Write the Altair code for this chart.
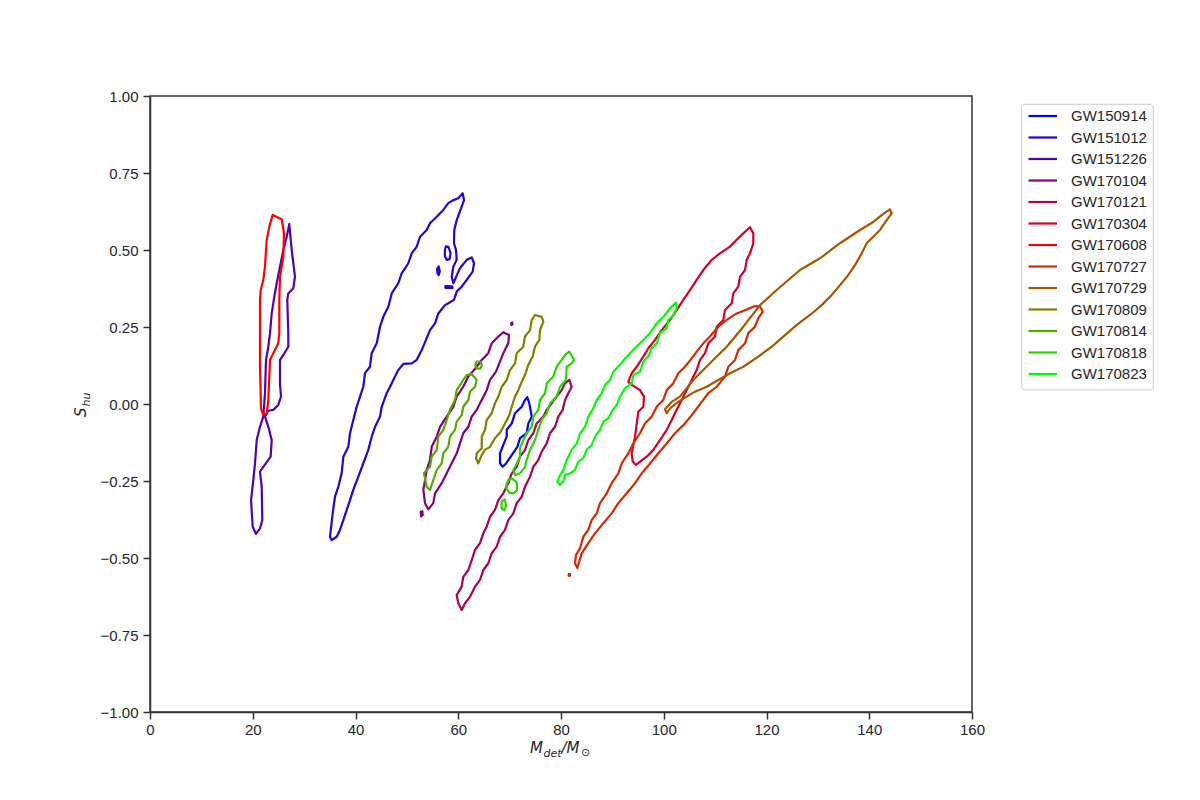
import altair as alt
import pandas as pd

events = ["GW150914", "GW151012", "GW151226", "GW170104", "GW170121", "GW170304",
          "GW170608", "GW170727", "GW170729", "GW170809", "GW170814", "GW170818", "GW170823"]
colors = ["#0000ff", "#2a00d4", "#5500aa", "#800080", "#aa0055", "#d4002a",
          "#ff0000", "#d42a00", "#aa5500", "#808000", "#55aa00", "#2ad400", "#00ff00"]

x_ticks = [0, 20, 40, 60, 80, 100, 120, 140, 160]
y_ticks = [-1.0, -0.75, -0.5, -0.25, 0.0, 0.25, 0.5, 0.75, 1.0]

# ---- contour outlines (M_det, S_hu) ----
GW150914_x = [73.44, 73.83, 74.30, 73.64, 73.32, 72.02, 71.50, 70.41, 69.30, 68.65, 68.13, 68.13, 68.77, 69.43, 69.43, 70.41, 71.05, 72.35, 72.99]
GW150914_y = [0.022, 0.002, -0.041, -0.063, -0.095, -0.111, -0.139, -0.166, -0.193, -0.204, -0.193, -0.160, -0.133, -0.106, -0.084, -0.063, -0.030, -0.009, 0.013]

GW151012_x = [60.87, 61.12, 60.67, 59.70, 59.23, 59.17, 59.56, 59.70, 59.04, 58.73, 59.04, 60.34, 61.65, 62.62, 63.07, 62.81, 61.65, 60.67, 59.70, 59.17,
              58.06, 57.42, 56.12, 55.48, 54.50, 53.72, 52.89, 51.91, 50.94, 49.30, 48.33, 47.69, 46.72, 46.07, 45.10, 44.77, 43.80, 43.15, 42.49, 41.52,
              40.55, 39.57, 38.93, 38.29, 37.63, 36.98, 36.34, 35.37, 35.04, 35.56, 36.01, 36.65, 37.31, 37.63, 38.60, 38.93, 39.57, 40.23, 40.88, 41.52,
              41.85, 42.82, 43.15, 44.13, 44.77, 45.41, 46.39, 47.05, 48.33, 48.99, 50.28, 50.94, 51.91, 52.56, 53.86, 54.50, 55.81, 57.09, 58.06, 59.04, 60.01]
GW151012_y = [0.684, 0.662, 0.641, 0.597, 0.565, 0.522, 0.500, 0.468, 0.446, 0.413, 0.392, 0.441, 0.468, 0.476, 0.457, 0.430, 0.403, 0.381, 0.365, 0.338,
              0.327, 0.321, 0.294, 0.262, 0.240, 0.208, 0.175, 0.143, 0.132, 0.130, 0.110, 0.089, 0.056, 0.035, -0.009, -0.041, -0.074, -0.106, -0.149, -0.193,
              -0.236, -0.279, -0.312, -0.344, -0.377, -0.409, -0.431, -0.442, -0.431, -0.355, -0.301, -0.269, -0.225, -0.171, -0.139, -0.095, -0.052, -0.009, 0.024, 0.056,
              0.100, 0.121, 0.165, 0.197, 0.251, 0.283, 0.316, 0.359, 0.392, 0.424, 0.457, 0.489, 0.511, 0.543, 0.565, 0.587, 0.608, 0.630, 0.652, 0.662, 0.668]
GW151012_b_x = [57.4, 57.6, 58.1, 58.5, 58.3, 57.8, 57.4]
GW151012_b_y = [0.500, 0.512, 0.510, 0.490, 0.470, 0.468, 0.480]
GW151012_c_x = [55.9, 56.2, 56.4, 56.2, 55.95]
GW151012_c_y = [0.440, 0.447, 0.430, 0.418, 0.425]
GW151012_d_x = [57.5, 58.8, 58.9, 57.5]
GW151012_d_y = [0.383, 0.382, 0.377, 0.377]

GW151226_x = [27.11, 27.58, 28.22, 27.89, 26.92, 26.72, 26.92, 26.92, 25.95, 25.30, 25.30, 25.50, 24.97, 24.00, 23.03, 22.38, 23.03, 23.69, 23.49, 22.05,
              21.41, 21.74, 21.86, 21.41, 20.63, 19.99, 19.66, 20.11, 20.44, 20.77, 21.41, 22.05, 22.38, 22.58, 23.03, 23.36, 23.69, 24.19, 24.66, 25.30, 25.95, 26.61]
GW151226_y = [0.584, 0.500, 0.413, 0.376, 0.359, 0.338, 0.230, 0.186, 0.159, 0.143, 0.067, 0.024, -0.003, -0.019, -0.022, -0.041, -0.074, -0.117, -0.171, -0.204,
              -0.220, -0.268, -0.377, -0.404, -0.422, -0.398, -0.312, -0.247, -0.193, -0.117, -0.074, -0.041, 0.035, 0.143, 0.186, 0.230, 0.294, 0.348, 0.392, 0.446, 0.500, 0.543]

GW170104_x = [68.77, 69.88, 69.74, 68.77, 67.99, 67.35, 66.18, 65.54, 64.57, 63.59, 62.62, 61.96, 60.98, 60.34, 59.70, 59.04, 57.75, 56.78, 55.48, 55.14,
              54.17, 53.53, 53.20, 53.53, 53.86, 54.50, 54.83, 55.81, 56.45, 57.75, 59.04, 59.70, 60.98, 61.96, 63.59, 64.57, 65.85, 66.51, 67.80]
GW170104_y = [0.233, 0.224, 0.197, 0.165, 0.132, 0.105, 0.078, 0.045, 0.013, -0.019, -0.041, -0.074, -0.095, -0.128, -0.160, -0.182, -0.225, -0.257, -0.290, -0.322,
              -0.342, -0.322, -0.279, -0.247, -0.214, -0.182, -0.139, -0.106, -0.074, -0.041, -0.009, 0.024, 0.056, 0.089, 0.121, 0.143, 0.165, 0.197, 0.219]
GW170104_b_x = [52.7, 53.0, 53.1, 52.8]
GW170104_b_y = [-0.350, -0.348, -0.360, -0.365]
GW170104_c_x = [70.3, 70.5, 70.55, 70.35]
GW170104_c_y = [0.262, 0.265, 0.258, 0.256]

GW170121_x = [81.62, 82.08, 81.42, 80.78, 80.33, 79.48, 78.83, 77.86, 77.22, 76.24, 75.58, 74.61, 73.97, 72.99, 72.35, 71.38, 70.72, 69.74, 69.10, 68.13,
              67.48, 66.51, 65.85, 64.88, 64.23, 63.26, 62.29, 61.31, 60.67, 60.01, 59.70, 60.67, 60.98, 61.96, 62.62, 63.26, 64.23, 64.88, 65.54, 66.18,
              67.15, 67.80, 68.77, 69.74, 70.41, 71.38, 72.02, 72.99, 73.64, 74.61, 75.27, 76.56, 77.22, 78.19, 79.16, 80.14, 80.78]
GW170121_y = [0.078, 0.056, 0.035, 0.013, -0.019, -0.041, -0.074, -0.095, -0.128, -0.155, -0.182, -0.204, -0.236, -0.269, -0.301, -0.322, -0.355, -0.377, -0.409, -0.431,
              -0.463, -0.485, -0.517, -0.539, -0.571, -0.593, -0.626, -0.647, -0.669, -0.647, -0.620, -0.593, -0.561, -0.539, -0.507, -0.474, -0.452, -0.420, -0.398, -0.366,
              -0.344, -0.312, -0.290, -0.257, -0.225, -0.204, -0.171, -0.149, -0.117, -0.095, -0.063, -0.041, -0.019, 0.002, 0.024, 0.045, 0.067]

GW170304_x = [116.79, 117.43, 117.43, 116.79, 116.15, 115.82, 114.84, 114.51, 113.54, 113.23, 111.92, 111.59, 110.31, 109.98, 108.67, 108.03, 107.06, 106.41, 105.44, 104.47,
              103.49, 102.52, 101.55, 100.58, 99.27, 97.97, 96.68, 95.38, 94.60, 93.96, 93.76, 94.41, 94.74, 95.05, 96.02, 96.16, 95.38, 93.76, 93.10, 93.76,
              94.74, 96.02, 97.00, 98.30, 99.60, 101.22, 102.52, 103.81, 105.11, 106.41, 107.70, 109.33, 110.95, 112.90, 114.20, 115.49]
GW170304_y = [0.574, 0.554, 0.522, 0.489, 0.468, 0.435, 0.413, 0.381, 0.359, 0.327, 0.305, 0.273, 0.251, 0.219, 0.197, 0.165, 0.143, 0.110, 0.078, 0.045,
              0.013, -0.019, -0.052, -0.084, -0.117, -0.149, -0.171, -0.187, -0.198, -0.187, -0.160, -0.106, -0.063, -0.025, -0.009, 0.024, 0.045, 0.062, 0.072, 0.100,
              0.121, 0.154, 0.181, 0.208, 0.240, 0.273, 0.305, 0.338, 0.370, 0.403, 0.435, 0.468, 0.489, 0.511, 0.533, 0.554]

GW170608_x = [23.88, 25.63, 26.08, 25.95, 25.30, 25.17, 25.17, 24.97, 24.00, 23.36, 23.22, 23.03, 22.71, 22.05, 21.61, 21.41, 21.41, 21.55, 22.05, 22.38, 22.71, 23.22]
GW170608_y = [0.614, 0.600, 0.555, 0.478, 0.413, 0.338, 0.230, 0.197, 0.165, 0.143, 0.089, 0.013, -0.030, -0.036, -0.014, 0.121, 0.338, 0.370, 0.403, 0.446, 0.532, 0.576]

GW170727_x = [118.74, 119.26, 118.40, 117.76, 116.46, 115.82, 114.51, 113.87, 112.57, 111.92, 110.31, 108.67, 107.39, 105.75, 104.14, 102.19, 100.58, 98.94, 97.33, 95.71,
              94.41, 92.79, 91.16, 89.87, 88.24, 86.62, 85.31, 84.03, 83.17, 82.73, 82.92, 83.70, 84.34, 85.31, 85.97, 86.95, 87.59, 88.90, 89.87, 91.16,
              91.82, 93.10, 94.08, 95.38, 96.35, 97.65, 98.63, 99.91, 100.58, 101.86, 102.83, 104.14, 105.44, 106.41, 107.70, 109.00, 110.62, 112.25, 114.20, 116.15, 117.76]
GW170727_y = [0.316, 0.300, 0.278, 0.251, 0.230, 0.197, 0.175, 0.143, 0.121, 0.089, 0.056, 0.035, 0.007, -0.030, -0.063, -0.095, -0.128, -0.160, -0.193, -0.225,
              -0.257, -0.290, -0.322, -0.355, -0.387, -0.420, -0.452, -0.485, -0.533, -0.517, -0.490, -0.469, -0.431, -0.409, -0.377, -0.355, -0.322, -0.290, -0.257, -0.225,
              -0.193, -0.160, -0.128, -0.095, -0.063, -0.041, -0.009, 0.013, 0.045, 0.067, 0.100, 0.121, 0.148, 0.170, 0.197, 0.219, 0.251, 0.273, 0.294, 0.307, 0.318]
GW170727_b_x = [81.5, 81.75, 81.75, 81.5]
GW170727_b_y = [-0.552, -0.552, -0.558, -0.558]

GW170729_x = [144.04, 144.37, 143.40, 142.09, 140.79, 139.50, 138.53, 137.23, 135.93, 134.31, 132.69, 130.75, 128.47, 125.88, 123.27, 121.01, 118.41, 115.49, 112.90, 110.62,
              108.36, 106.08, 104.47, 102.83, 101.22, 100.58, 100.24, 101.55, 103.16, 105.75, 109.00, 112.25, 115.49, 118.74, 121.99, 126.52, 130.41, 134.31, 138.20, 140.79, 142.74]
GW170729_y = [0.632, 0.619, 0.597, 0.565, 0.543, 0.522, 0.489, 0.451, 0.419, 0.386, 0.354, 0.321, 0.289, 0.257, 0.219, 0.186, 0.154, 0.121, 0.100, 0.078,
              0.056, 0.040, 0.024, 0.007, -0.014, -0.030, -0.017, 0.007, 0.024, 0.078, 0.132, 0.186, 0.251, 0.321, 0.370, 0.435, 0.473, 0.522, 0.565, 0.591, 0.617]

GW170809_x = [74.94, 76.24, 76.56, 75.91, 75.78, 74.94, 74.49, 73.64, 72.99, 72.35, 71.69, 71.05, 70.41, 69.94, 69.10, 68.26, 67.15, 66.18, 65.21, 64.57,
              63.90, 63.46, 63.59, 64.57, 64.57, 65.21, 65.54, 66.51, 67.15, 67.80, 68.46, 69.43, 70.07, 71.05, 71.38, 72.66, 72.99, 73.97, 74.30]
GW170809_y = [0.289, 0.283, 0.267, 0.240, 0.208, 0.186, 0.154, 0.127, 0.094, 0.072, 0.045, 0.024, -0.009, -0.036, -0.063, -0.090, -0.111, -0.139, -0.149, -0.166,
              -0.193, -0.176, -0.160, -0.144, -0.106, -0.084, -0.052, -0.030, 0.002, 0.024, 0.056, 0.078, 0.110, 0.132, 0.165, 0.186, 0.219, 0.240, 0.273]

GW170814_x = [62.62, 63.59, 63.26, 62.29, 61.96, 60.98, 60.67, 59.70, 59.37, 58.39, 58.06, 57.09, 56.78, 55.81, 55.14, 54.50, 53.86, 53.33, 54.50, 54.83,
              55.81, 56.12, 57.09, 57.75, 58.39, 59.37, 59.70, 60.98, 61.65]
GW170814_y = [0.097, 0.078, 0.056, 0.040, 0.013, -0.009, -0.036, -0.057, -0.084, -0.106, -0.139, -0.160, -0.193, -0.214, -0.247, -0.279, -0.269, -0.225, -0.204, -0.171,
              -0.149, -0.106, -0.084, -0.052, -0.019, 0.013, 0.045, 0.078, 0.094]
GW170814_b_x = [63.3, 63.6, 64.3, 64.6, 64.3, 63.6]
GW170814_b_y = [0.127, 0.138, 0.138, 0.127, 0.115, 0.115]

GW170818_x = [81.62, 82.53, 82.08, 81.11, 80.97, 79.81, 79.16, 77.86, 77.22, 76.24, 75.58, 74.94, 73.97, 73.32, 72.99, 72.02, 71.05, 70.72, 71.38, 72.02,
              72.02, 72.66, 73.32, 74.30, 74.61, 75.58, 75.91, 76.89, 77.22, 78.50, 79.16, 80.14, 80.78]
GW170818_y = [0.170, 0.143, 0.132, 0.121, 0.078, 0.056, 0.024, 0.002, -0.030, -0.052, -0.084, -0.117, -0.149, -0.182, -0.204, -0.225, -0.231, -0.214, -0.193, -0.171,
              -0.144, -0.117, -0.095, -0.074, -0.041, -0.019, 0.013, 0.035, 0.067, 0.089, 0.121, 0.143, 0.159]
GW170818_b_x = [69.4, 69.8, 70.6, 71.4, 71.4, 70.8, 69.9, 69.4]
GW170818_b_y = [-0.260, -0.245, -0.243, -0.255, -0.280, -0.290, -0.288, -0.275]
GW170818_c_x = [68.5, 69.1, 69.3, 69.0, 68.5, 68.4]
GW170818_c_y = [-0.315, -0.310, -0.330, -0.345, -0.340, -0.330]

GW170823_x = [102.39, 102.52, 101.86, 100.89, 100.58, 99.27, 98.63, 97.65, 97.00, 96.02, 95.38, 94.08, 93.76, 92.46, 91.48, 90.84, 89.87, 89.21, 88.24, 87.59,
              86.62, 85.97, 85.00, 84.34, 83.37, 82.73, 81.75, 80.78, 80.45, 79.81, 79.28, 79.81, 80.45, 81.11, 82.08, 83.06, 83.70, 84.67, 85.31, 86.29,
              86.95, 87.93, 88.57, 89.54, 90.18, 91.48, 92.46, 93.76, 95.05, 96.02, 97.33, 98.63, 99.91, 101.22]
GW170823_y = [0.329, 0.311, 0.289, 0.273, 0.246, 0.230, 0.197, 0.181, 0.154, 0.137, 0.105, 0.094, 0.067, 0.051, 0.024, -0.003, -0.025, -0.046, -0.057, -0.084,
              -0.106, -0.133, -0.149, -0.176, -0.187, -0.214, -0.225, -0.231, -0.252, -0.263, -0.252, -0.231, -0.214, -0.182, -0.149, -0.128, -0.095, -0.074, -0.041, -0.014,
              0.013, 0.035, 0.062, 0.078, 0.105, 0.127, 0.148, 0.170, 0.192, 0.208, 0.230, 0.262, 0.283, 0.311]

contours = {
    "GW150914": [(GW150914_x, GW150914_y)],
    "GW151012": [(GW151012_x, GW151012_y), (GW151012_b_x, GW151012_b_y), (GW151012_c_x, GW151012_c_y), (GW151012_d_x, GW151012_d_y)],
    "GW151226": [(GW151226_x, GW151226_y)],
    "GW170104": [(GW170104_x, GW170104_y), (GW170104_b_x, GW170104_b_y), (GW170104_c_x, GW170104_c_y)],
    "GW170121": [(GW170121_x, GW170121_y)],
    "GW170304": [(GW170304_x, GW170304_y)],
    "GW170608": [(GW170608_x, GW170608_y)],
    "GW170727": [(GW170727_x, GW170727_y), (GW170727_b_x, GW170727_b_y)],
    "GW170729": [(GW170729_x, GW170729_y)],
    "GW170809": [(GW170809_x, GW170809_y)],
    "GW170814": [(GW170814_x, GW170814_y), (GW170814_b_x, GW170814_b_y)],
    "GW170818": [(GW170818_x, GW170818_y), (GW170818_b_x, GW170818_b_y), (GW170818_c_x, GW170818_c_y)],
    "GW170823": [(GW170823_x, GW170823_y)],
}

rows = []
for ev in events:
    for k, (xs, ys) in enumerate(contours[ev]):
        pts = list(zip(xs, ys))
        pts.append(pts[0])  # close the contour
        for i, (xv, yv) in enumerate(pts):
            rows.append({"event": ev, "part": f"{ev}_{k}", "idx": i, "x": xv, "y": yv})
df = pd.DataFrame(rows)

TXT = "#262626"
FONT = "Liberation Sans"
MATH = "DejaVu Sans"

lines = alt.Chart(df).mark_line(strokeWidth=2.2, strokeJoin="round", strokeCap="round", clip=True).encode(
    x=alt.X("x:Q", scale=alt.Scale(domain=[0, 160], nice=False, zero=False),
            axis=alt.Axis(values=x_ticks, title=None, format="d", labelPadding=3, labelFlush=False)),
    y=alt.Y("y:Q", scale=alt.Scale(domain=[-1, 1], nice=False, zero=False),
            axis=alt.Axis(values=y_ticks, title=None, format=".2f", labelPadding=5, labelFlush=False)),
    color=alt.Color("event:N", scale=alt.Scale(domain=events, range=colors),
                    legend=alt.Legend(title=None, orient="none", legendX=877, legendY=9,
                                      symbolType="M-1,0H2", symbolSize=361, symbolStrokeWidth=2.2,
                                      labelFont=FONT, labelFontSize=15, labelColor=TXT,
                                      labelOffset=22, rowPadding=2.5, padding=0,
                                      labelLimit=300)),
    detail="part:N",
    order="idx:Q",
)

one = pd.DataFrame({"a": [0]})
legend_box = alt.Chart(one).mark_rect(fill="white", stroke="#cccccc", strokeWidth=1, cornerRadius=3).encode(
    x=alt.value(871.7), x2=alt.value(1003.3), y=alt.value(8.3), y2=alt.value(294)
)

def txt(s, x, y, size, angle=0):
    return alt.Chart(one).mark_text(text=s, font=MATH, fontStyle="italic", fontSize=size, color=TXT,
                                    align="left", baseline="alphabetic", angle=angle).encode(
        x=alt.value(x), y=alt.value(y))

xt = [txt("M", 380, 657.3, 15), txt("det", 393.5, 661.3, 11), txt("/M", 411.5, 657.3, 15),
      alt.Chart(one).mark_text(text="⊙", font=MATH, fontSize=11, color=TXT, align="left", baseline="alphabetic").encode(
          x=alt.value(431), y=alt.value(660.3))]
yt = [txt("S", -64, 321, 15, 270), txt("hu", -60.5, 310.5, 11, 270)]

chart = alt.layer(legend_box, lines, *xt, *yt).properties(
    width=822, height=616,
    autosize=alt.AutoSizeParams(type="none"),
    padding={"left": 142, "top": 88, "right": 210, "bottom": 80},
    background="white",
).configure_view(stroke="#333333", strokeWidth=1.5).configure_axis(
    domainColor="#333333", domainWidth=1.5, tickColor="#333333", tickWidth=1.5, tickSize=7,
    labelFont=FONT, labelFontSize=15, labelColor=TXT, grid=False,
)

chart.save("out.html", embed_options={"renderer": "svg", "actions": False})
